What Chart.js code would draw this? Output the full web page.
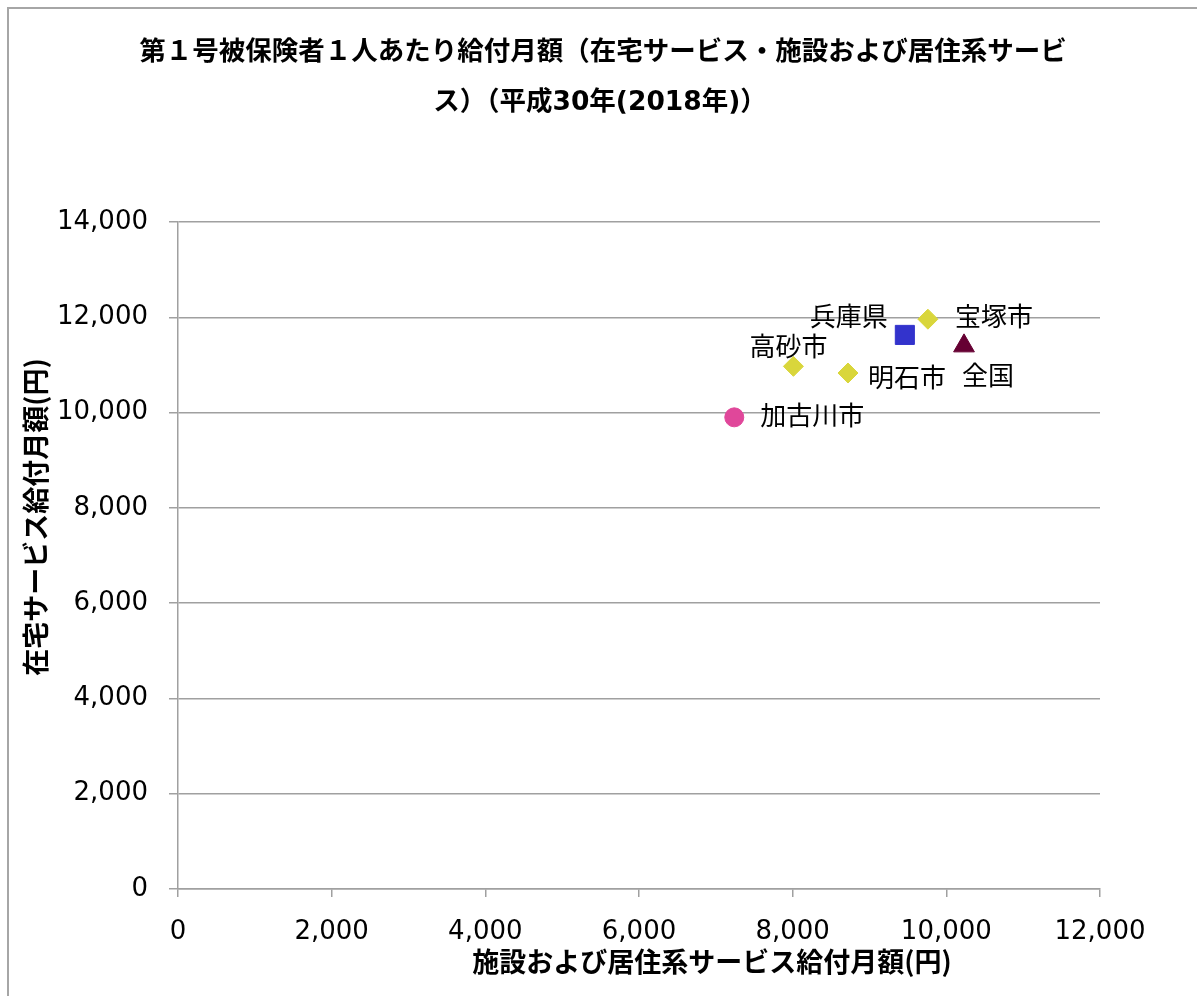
<!DOCTYPE html>
<html>
<head>
<meta charset="utf-8">
<script src="https://cdn.jsdelivr.net/npm/chart.js@4/dist/chart.umd.min.js"></script>
<style>
  html, body { margin: 0; padding: 0; background: #fff; overflow: hidden; }
  #frame { position: absolute; left: 7px; top: 7px; width: 1300px; height: 1100px;
           border-left: 2px solid #a6a6a6; border-top: 2px solid #a6a6a6; }
  #wrap { position: absolute; left: 0; top: 0; width: 1197px; height: 996px; }
</style>
</head>
<body>
<div id="frame"></div>
<div id="wrap"><canvas id="scatterChart"></canvas></div>
<script>
// data
const names = ['加古川市', '高砂市', '明石市', '兵庫県', '宝塚市', '全国'];
const facilityCost = [7240, 8010, 8720, 9460, 9760, 10230];   // x: 施設および居住系サービス
const homeCost = [9900, 10970, 10830, 11630, 11960, 11400];   // y: 在宅サービス
const xTicks = [0, 2000, 4000, 6000, 8000, 10000, 12000];
const yTicks = [0, 2000, 4000, 6000, 8000, 10000, 12000, 14000];
const titleLines = ['第１号被保険者１人あたり給付月額（在宅サービス・施設および居住系サービ',
                    'ス）（平成30年(2018年)）'];

// marker styles, one per point
const markerStyle = [
    {shape: 'circle', color: '#e0479a', r: 9.5},
    {shape: 'rectRot', color: '#d9d63b', r: 10},
    {shape: 'rectRot', color: '#d9d63b', r: 10},
    {shape: 'rect', color: '#3333cc', r: 13.5},
    {shape: 'rectRot', color: '#d9d63b', r: 10},
    {shape: 'triangle', color: '#660033', r: 12}
];
// label placement relative to the marker
const labelPlace = [
    {dx: 26, dy: 1, align: 'left'},
    {dx: -5, dy: -17, align: 'center'},
    {dx: 20, dy: 7, align: 'left'},
    {dx: -17, dy: -16, align: 'right'},
    {dx: 27, dy: 0, align: 'left'},
    {dx: 24, dy: 32, align: 'center'}
];

const numFont = "'DejaVu Sans', 'Noto Sans CJK JP', sans-serif";
const jpFont = "'Noto Sans CJK JP', sans-serif";
const gridColor = '#a0a0a0';

let datasets = names.map((n, i) => ({
    label: n,
    data: [{x: facilityCost[i], y: homeCost[i]}],
    pointStyle: markerStyle[i].shape,
    pointRadius: markerStyle[i].r,
    pointHoverRadius: markerStyle[i].r,
    backgroundColor: markerStyle[i].color,
    borderColor: markerStyle[i].color,
    borderWidth: 1
}));

let pointLabels = {
    id: 'pointLabels',
    afterDatasetsDraw(chart) {
        let c = chart.ctx;
        c.save();
        c.fillStyle = '#000';
        c.font = '26px ' + numFont;
        c.textBaseline = 'middle';
        chart.data.datasets.forEach((ds, i) => {
            let p = chart.getDatasetMeta(i).data[0];
            c.textAlign = labelPlace[i].align;
            c.fillText(ds.label, p.x + labelPlace[i].dx, p.y + labelPlace[i].dy);
        });
        c.restore();
    }
};

// chart title and axis titles sit off-centre like the original
let titles = {
    id: 'titles',
    afterDraw(chart) {
        let c = chart.ctx;
        c.save();
        c.fillStyle = '#000';
        c.textAlign = 'center';
        c.textBaseline = 'middle';
        c.font = 'bold 26.5px ' + numFont;
        c.fillText(titleLines[0], 603, 53);
        c.fillText(titleLines[1], 600, 103);
        c.font = 'bold 27px ' + jpFont;
        c.fillText('施設および居住系サービス給付月額(円)', 712, 962);
        c.translate(36, 517);
        c.rotate(-Math.PI / 2);
        c.fillText('在宅サービス給付月額(円)', 0, 0);
        c.restore();
    }
};

let ctx = document.getElementById('scatterChart').getContext('2d');
window.myScatter = new Chart(ctx, {
    type: 'scatter',
    data: {datasets: datasets},
    plugins: [pointLabels, titles],
    options: {
        responsive: true,
        maintainAspectRatio: false,
        animation: false,
        layout: {padding: {left: 0, top: 222, right: 97, bottom: 0}},
        plugins: {
            legend: {display: false},
            tooltip: {enabled: false},
            title: {display: false}
        },
        scales: {
            x: {
                type: 'linear',
                min: 0,
                max: 12000,
                afterBuildTicks: s => { s.ticks = xTicks.map(v => ({value: v})); },
                afterFit: s => { s.height = 107; },
                border: {display: true, color: gridColor, width: 1.5},
                grid: {drawOnChartArea: false, drawTicks: true, tickLength: 8, color: gridColor, lineWidth: 1.5},
                ticks: {
                    color: '#000',
                    padding: 20,
                    maxRotation: 0,
                    font: {family: numFont, size: 26},
                    callback: v => v.toLocaleString('en-US')
                }
            },
            y: {
                type: 'linear',
                min: 0,
                max: 14000,
                afterBuildTicks: s => { s.ticks = yTicks.map(v => ({value: v})); },
                afterFit: s => { s.width = 178; },
                border: {display: true, color: gridColor, width: 1.5},
                grid: {drawTicks: true, tickLength: 9, color: gridColor, lineWidth: 1.5},
                ticks: {
                    color: '#000',
                    padding: 21,
                    font: {family: numFont, size: 26},
                    callback: v => v.toLocaleString('en-US')
                }
            }
        }
    }
});
</script>
</body>
</html>
